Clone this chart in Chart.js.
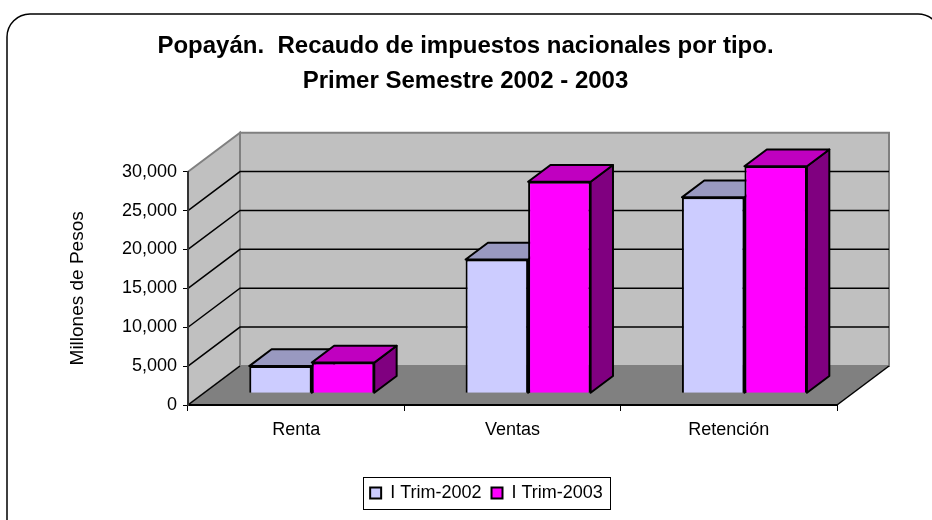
<!DOCTYPE html>
<html>
<head>
<meta charset="utf-8">
<script src="https://cdn.jsdelivr.net/npm/chart.js@4"></script>
<style>
  html, body { margin: 0; padding: 0; background: #fff; }
</style>
</head>
<body>
<canvas id="chart" width="932" height="520"></canvas>
<script>
// data
var categories = ['Renta', 'Ventas', 'Retención'];
var seriesNames = ['I Trim-2002', 'I Trim-2003'];
var trim2002 = [3500, 17200, 25200];
var trim2003 = [3950, 27200, 29200];
var yTicks = [0, 5000, 10000, 15000, 20000, 25000, 30000];

// fake 3D: oblique depth of the floor, and where the bars sit in it
var DX = 52, DY = -39;
var BAR_FRONT = 0.3, BAR_DEEP = 0.43;
var faces = [
  { top: '#9999C0', side: '#6666A0' },
  { top: '#C000C0', side: '#800080' }
];

function poly(ctx, pts, fill, stroke, lw) {
  ctx.beginPath();
  ctx.moveTo(pts[0][0], pts[0][1]);
  for (var i = 1; i < pts.length; i++) ctx.lineTo(pts[i][0], pts[i][1]);
  ctx.closePath();
  if (fill) { ctx.fillStyle = fill; ctx.fill(); }
  if (stroke) { ctx.strokeStyle = stroke; ctx.lineWidth = lw || 1; ctx.stroke(); }
}

var box3d = {
  id: 'box3d',
  afterLayout: function (chart) {
    // title and legend are not centred on the plot in the original
    chart.titleBlock.left += 47; chart.titleBlock.right += 47;
    chart.legend.left += 68; chart.legend.right += 68;
  },
  beforeDraw: function (chart) {
    var ctx = chart.ctx, a = chart.chartArea, y = chart.scales.y;
    ctx.save();
    ctx.fillStyle = '#fff';
    ctx.fillRect(0, 0, chart.width, chart.height);
    ctx.beginPath();
    ctx.roundRect(7, 14, 934, 540, 23);
    ctx.strokeStyle = '#000';
    ctx.lineWidth = 1.5;
    ctx.stroke();

    var L = a.left, R = a.right, T = a.top, B = a.bottom;
    poly(ctx, [[L, T], [L + DX, T + DY], [L + DX, B + DY], [L, B]], '#C0C0C0', '#808080', 2);
    poly(ctx, [[L + DX, T + DY], [R + DX, T + DY], [R + DX, B + DY], [L + DX, B + DY]], '#C0C0C0', '#808080', 2);
    poly(ctx, [[L, B], [R, B], [R + DX, B + DY], [L + DX, B + DY]], '#808080', null);

    ctx.strokeStyle = '#000';
    ctx.lineWidth = 1.5;
    yTicks.forEach(function (v, i) {
      if (i === yTicks.length - 1) return;
      var py = y.getPixelForValue(v);
      ctx.beginPath();
      ctx.moveTo(L, py);
      ctx.lineTo(L + DX, py + DY);
      if (v !== 0) ctx.lineTo(R + DX, py + DY);
      ctx.stroke();
    });
    ctx.beginPath();
    ctx.moveTo(R, B);
    ctx.lineTo(R + DX, B + DY);
    ctx.stroke();
    ctx.restore();
  },
  beforeDatasetsDraw: function (chart) {
    var ctx = chart.ctx;
    var bx = DX * BAR_DEEP, by = DY * BAR_DEEP;
    ctx.save();
    ctx.translate(DX * BAR_FRONT, DY * BAR_FRONT);
    // side and top faces go down first, the library's front faces cover them
    ctx.save();
    ctx.lineJoin = 'round';
    chart.data.datasets.forEach(function (ds, i) {
      var f = faces[i];
      chart.getDatasetMeta(i).data.forEach(function (bar) {
        var p = bar.getProps(['x', 'y', 'base', 'width'], true);
        var l = p.x - p.width / 2, r = p.x + p.width / 2, t = p.y, b = p.base;
        poly(ctx, [[r, t], [r + bx, t + by], [r + bx, b + by], [r, b]], f.side, '#000', 2);
        poly(ctx, [[l, t], [l + bx, t + by], [r + bx, t + by], [r, t]], f.top, '#000', 2);
      });
    });
    ctx.restore();
  },
  afterDatasetsDraw: function (chart) {
    chart.ctx.restore();
  },
  afterDraw: function (chart) {
    var ctx = chart.ctx, lg = chart.legend;
    var p = lg.options.labels.padding;
    var w = lg.lineWidths[0];
    var x0 = (lg.left + p + lg.right - w) / 2;
    var x1 = x0 + w - p;
    var cy = lg.top + p + 9;
    ctx.save();
    ctx.strokeStyle = '#000';
    ctx.lineWidth = 1;
    ctx.strokeRect(Math.round(x0 - 7) + 0.5, Math.round(cy - 16) + 0.5, Math.round(x1 - x0 + 14), 32);
    ctx.restore();
  }
};

Chart.defaults.font.family = '"Liberation Sans", Arial, sans-serif';
Chart.defaults.color = '#000';

new Chart(document.getElementById('chart').getContext('2d'), {
  type: 'bar',
  data: {
    labels: categories,
    datasets: [{
      label: seriesNames[0],
      data: trim2002,
      backgroundColor: '#CCCCFF',
      borderColor: '#000',
      borderWidth: 2,
      clip: false
    }, {
      label: seriesNames[1],
      data: trim2003,
      backgroundColor: '#FF00FF',
      borderColor: '#000',
      borderWidth: 2,
      clip: false
    }]
  },
  options: {
    responsive: false,
    animation: false,
    devicePixelRatio: 1,
    datasets: { bar: { categoryPercentage: 0.578, barPercentage: 1 } },
    layout: { autoPadding: false, padding: { left: 0, right: 95, top: 0, bottom: 8 } },
    plugins: {
      title: {
        display: true,
        text: ['Popayán.  Recaudo de impuestos nacionales por tipo.', 'Primer Semestre 2002 - 2003'],
        font: { size: 24, weight: 'bold', lineHeight: 35 / 24 },
        color: '#000',
        padding: { top: 28.5, bottom: 73.2 }
      },
      legend: {
        position: 'bottom',
        labels: { boxWidth: 11, boxHeight: 11, padding: 10, font: { size: 18 }, color: '#000' }
      },
      tooltip: { enabled: false }
    },
    scales: {
      x: {
        grid: { offset: true, drawOnChartArea: false, tickLength: 6, color: '#000' },
        border: { color: '#000', width: 2 },
        ticks: { font: { size: 18 }, color: '#000', padding: 8 },
        afterFit: function (s) { s.height = 69; }
      },
      y: {
        min: 0,
        max: 30000,
        afterBuildTicks: function (s) {
          s.ticks = yTicks.map(function (v) { return { value: v }; });
        },
        grid: { drawOnChartArea: false, tickLength: 5, color: '#000' },
        border: { color: '#333', width: 2 },
        ticks: { font: { size: 18 }, color: '#000', padding: 6 },
        title: { display: true, text: 'Millones de Pesos', font: { size: 19 }, color: '#000', padding: { top: 66.5 } },
        afterFit: function (s) { s.width = 188; }
      }
    }
  },
  plugins: [box3d]
});
</script>
</body>
</html>
